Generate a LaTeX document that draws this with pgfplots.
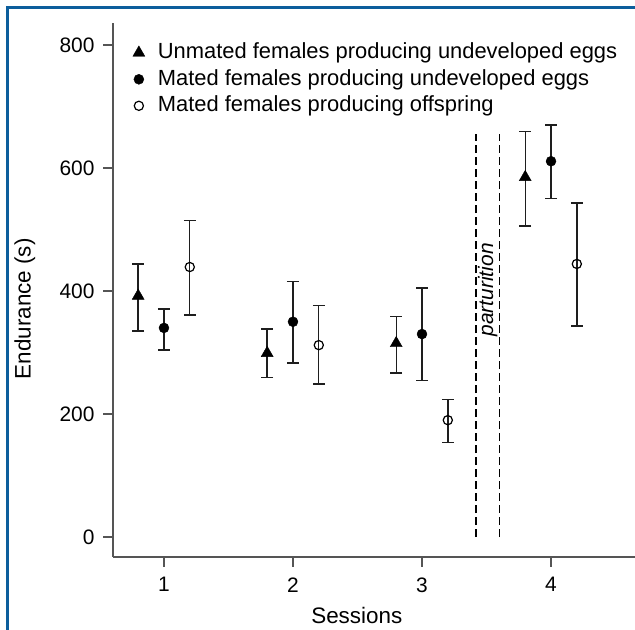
\documentclass[border=0pt]{standalone}
\usepackage{fontspec}
\setmainfont{Liberation Sans}
\usepackage{pgfplots}
\pgfplotsset{compat=1.18}
\definecolor{frameblue}{RGB}{12,94,156}
\definecolor{axgray}{RGB}{85,85,85}
\definecolor{barcol}{RGB}{30,30,30}

\begin{document}
\begin{tikzpicture}[x=1bp,y=1bp]
\useasboundingbox (0,0) rectangle (635,630);
\fill[white] (0,0) rectangle (635,630);
\draw[frameblue, line width=3bp] (7.5,0) -- (7.5,622) -- (635,622);
\begin{axis}[
  at={(113bp,73bp)}, anchor=south west,
  scale only axis, width=522bp, height=534bp,
  xmin=0.605, xmax=4.651, ymin=-32.5, ymax=835.8,
  axis x line=bottom, axis y line=left,
  axis line style={axgray, line width=1.3bp, -},
  tick style={axgray, line width=1.3bp},
  tick align=outside, major tick length=10bp,
  xtick={1,2,3,4}, ytick={0,200,400,600,800},
  /pgf/number format/assume math mode=true,
  tick label style={font=\fontsize{21}{25}\selectfont},
  xticklabel style={yshift=-7bp},
  yticklabel style={xshift=-5bp},
  xlabel={Sessions}, ylabel={Endurance (s)},
  label style={font=\fontsize{22.5}{26}\selectfont},
  xlabel style={at={(axis description cs:0.467,-0.109)}, anchor=center},
  ylabel style={at={(axis description cs:-0.169,0.465)}, anchor=center, rotate=0},
  legend style={at={(axis description cs:0.032,0.967)}, anchor=north west,
    draw=none, fill=none, font=\fontsize{22}{26}\selectfont,
    nodes={inner sep=0bp, text height=16bp, text depth=4bp, anchor=west},
    row sep=6.5bp, column sep=13bp},
  legend cell align=left,
  legend image code/.code={\draw[#1] plot coordinates {(0bp,0bp)};},
  error bars/y dir=both, error bars/y explicit,
  error bars/error mark=-,
  error bars/error mark options={rotate=90, mark size=6bp, line width=1.4bp, barcol},
  error bars/error bar style={line width=1.4bp, barcol},
  clip=false,
]
\addplot[only marks, mark=triangle*, mark size=6.9bp, black]
  coordinates {(0.8,392) += (0,52) -= (0,57)
               (1.8,299) += (0,39) -= (0,40)
               (2.8,315) += (0,44) -= (0,48)
               (3.8,585) += (0,74) -= (0,79)};
\addlegendentry{Unmated females producing undeveloped eggs}
\addplot[only marks, mark=*, mark size=5bp, black]
  coordinates {(1.0,340) += (0,31) -= (0,36)
               (2.0,350) += (0,65) -= (0,67)
               (3.0,330) += (0,75) -= (0,76)
               (4.0,611) += (0,59) -= (0,61)};
\addlegendentry{Mated females producing undeveloped eggs}
\addplot[only marks, mark=o, mark size=4.6bp, black, mark options={line width=1.2bp}]
  coordinates {(1.2,439) += (0,76) -= (0,78)
               (2.2,312) += (0,64) -= (0,63)
               (3.2,190) += (0,34) -= (0,36)
               (4.2,444) += (0,99) -= (0,101)};
\addlegendentry{Mated females producing offspring}
\addplot[black, line width=1.6bp, dash pattern=on 8bp off 4bp, forget plot]
  coordinates {(3.42,0) (3.42,655)};
\addplot[black, line width=1.6bp, dash pattern=on 8bp off 4bp, forget plot]
  coordinates {(3.60,0) (3.60,655)};
\node[rotate=90, font=\fontsize{21}{25}\selectfont\itshape] at (axis cs:3.51,402) {parturition};
\end{axis}
\end{tikzpicture}
\end{document}
